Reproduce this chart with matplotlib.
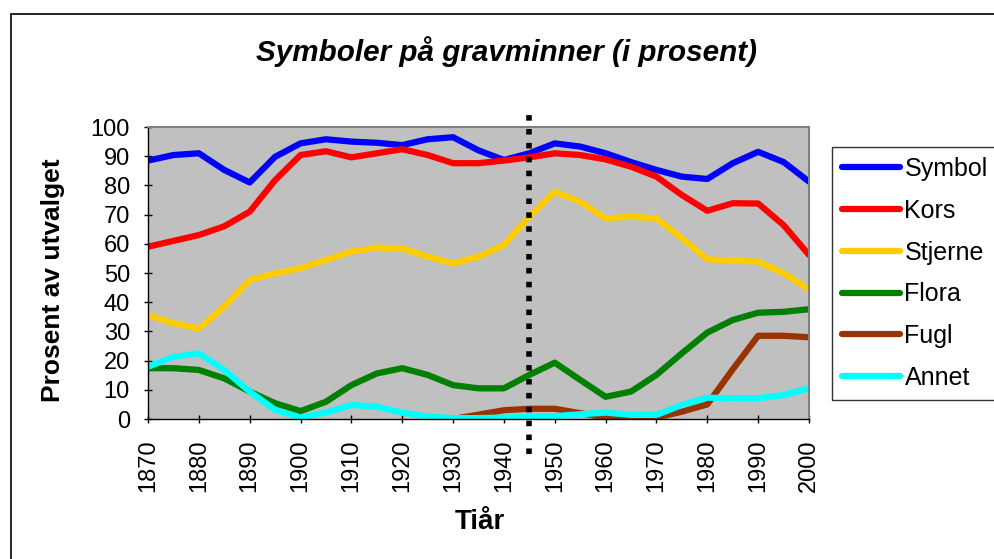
import numpy as np
import matplotlib
matplotlib.use('Agg')
import matplotlib.pyplot as plt
from matplotlib.patches import Rectangle

plt.rcParams['font.family'] = ['Liberation Sans', 'DejaVu Sans']

# Data (every 5 years)
years = list(range(1870, 2001, 5))
symbol = [88.5, 90.4, 91, 85.3, 81, 89.8, 94.4, 95.8, 95, 94.6, 93.8, 95.8, 96.5, 92,
          88.7, 91, 94.4, 93.3, 91, 88, 85.3, 83, 82.2, 87.6, 91.5, 88, 81.3]
kors = [59, 61, 63, 66, 71, 81.8, 90.4, 91.7, 89.6, 91, 92.4, 90.4, 87.6, 87.6,
        88.5, 89.6, 91, 90.4, 88.9, 86.4, 83, 76.7, 71.3, 73.9, 73.8, 66.4, 56.2]
stjerne = [35.6, 32.8, 31, 38.5, 47.6, 49.9, 51.6, 54.5, 57.3, 58.7, 58.4, 55.6, 53.3, 55.6,
           59.6, 69.3, 77.8, 74.4, 68.7, 69.3, 68.7, 61.9, 54.7, 54.2, 53.9, 49.9, 44.4]
flora = [17.4, 17.4, 16.8, 13.9, 9.4, 5.4, 2.7, 5.9, 11.6, 15.6, 17.4, 15.1, 11.6, 10.5,
         10.5, 15.1, 19.3, 13.4, 7.6, 9.4, 15.1, 22.5, 29.6, 33.9, 36.4, 36.7, 37.6]
fugl = [np.nan] * 12 + [0, 1.5, 3, 3.5, 3.5, 2, 0.5, 0.3, 0.5, 2.5, 5, 17, 28.5, 28.5, 28]
annet = [17.9, 21.3, 22.5, 16.8, 9.4, 3.1, 0.5, 2.2, 4.8, 4.2, 2.2, 0.8, 0.3, 0.3,
         0.5, 0.8, 1, 1.6, 2.2, 1.4, 1.4, 4.8, 7.3, 7.1, 7.1, 8.2, 10.5]

series = [('Symbol', symbol, '#0000FF'), ('Kors', kors, '#FF0000'),
          ('Stjerne', stjerne, '#FFCC00'), ('Flora', flora, '#008000'),
          ('Fugl', fugl, '#993300'), ('Annet', annet, '#00FFFF')]
marker_year = 1945

fig = plt.figure(figsize=(9.94, 5.59), dpi=100)
W, H = 994, 559
ax = fig.add_axes([148 / W, 1 - 419 / H, 661 / W, 292 / H])
ax.set_facecolor('#C0C0C0')

for name, vals, col in series:
    ax.plot(years, vals, color=col, lw=4.5, label=name,
            solid_joinstyle='round', solid_capstyle='round')

ax.axvline(marker_year, ymin=-0.12, ymax=1.04, color='black', lw=4,
           linestyle=(0, (1, 1.5)), dash_capstyle='butt', clip_on=False, zorder=5)

ax.set_xlim(1870, 2000)
ax.set_ylim(0, 100)
ax.set_xticks(range(1870, 2001, 10))
ax.set_yticks(range(0, 101, 10))
ax.tick_params(axis='x', direction='inout', length=6, width=1, labelsize=17,
               labelrotation=90, pad=12)
ax.tick_params(axis='y', direction='inout', length=6, width=1, labelsize=17, pad=10)

for s in ['top', 'right']:
    ax.spines[s].set_color('#808080')
    ax.spines[s].set_linewidth(1.5)
for s in ['left', 'bottom']:
    ax.spines[s].set_color('black')
    ax.spines[s].set_linewidth(1)

ax.set_ylabel('Prosent av utvalget', fontsize=19, fontweight='bold')
ax.yaxis.set_label_coords(-0.1437, 0.476)
ax.set_xlabel('Tiår', fontsize=20, fontweight='bold')
ax.xaxis.set_label_coords(0.502, -0.353)
ax.xaxis.label.set_va('center')
ax.yaxis.label.set_va('center')

fig.text(507 / W, 1 - 52 / H, 'Symboler på gravminner (i prosent)', fontsize=21.3,
         fontweight='bold', fontstyle='italic', ha='center', va='center')

leg = fig.legend(loc='upper left', bbox_to_anchor=(832 / W, 1 - 147 / H),
                 fontsize=18, frameon=True, fancybox=False, borderaxespad=0,
                 handlelength=2.3, handletextpad=0.2, labelspacing=0.71,
                 borderpad=0.4)
leg.get_frame().set_edgecolor('black')
leg.get_frame().set_linewidth(1)
for line in leg.get_lines():
    line.set_linewidth(4.5)

# outer chart border
fig.patches.append(Rectangle((11 / W, -0.1), 1.2, 1 - 14 / H + 0.1, transform=fig.transFigure,
                             fill=False, edgecolor='black', lw=1.2, clip_on=False))

fig.savefig('out.png', dpi=100)
